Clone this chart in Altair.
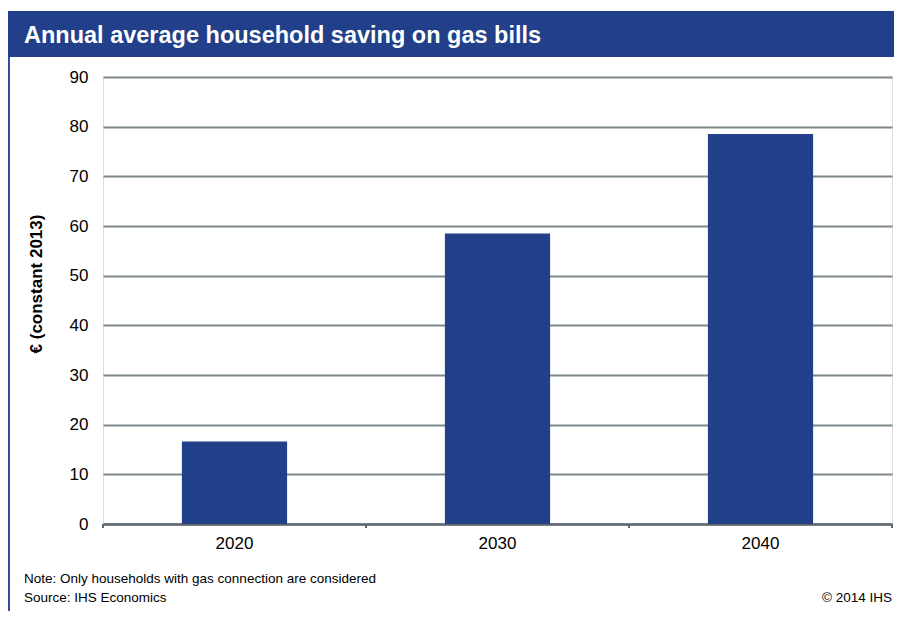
import altair as alt
import pandas as pd

# ---- data ----
years = ["2020", "2030", "2040"]
savings = [16.6, 58.5, 78.5]
y_ticks = [0, 10, 20, 30, 40, 50, 60, 70, 80, 90]
band_edges = [0, 1, 2, 3]

title_text = "Annual average household saving on gas bills"
y_title = "€ (constant 2013)"
note_text = "Note: Only households with gas connection are considered"
source_text = "Source: IHS Economics"
copyright_text = "© 2014 IHS"

BLUE = "#22408a"
GRID = "#7f878e"
AXIS = "#5f6871"
FONT = "Liberation Sans"

df = pd.DataFrame({"year": years, "saving": savings})
edges_df = pd.DataFrame({"b": band_edges})

bars = alt.Chart(df).mark_bar(color=BLUE).encode(
    x=alt.X(
        "year:N",
        sort=years,
        scale=alt.Scale(paddingInner=0.6, paddingOuter=0.3),
        axis=alt.Axis(
            title=None, labelAngle=0, ticks=False, labelPadding=11,
            labelFontSize=17, labelColor="black", labelFont=FONT,
            domainColor=AXIS, domainWidth=2.5, grid=False,
        ),
    ),
    y=alt.Y(
        "saving:Q",
        scale=alt.Scale(domain=[0, 90], nice=False),
        axis=alt.Axis(
            title=None, values=y_ticks, grid=True, gridColor=GRID, gridWidth=2,
            ticks=False, domain=False, labelPadding=15, labelFontSize=17,
            labelColor="black", labelFont=FONT,
        ),
    ),
)

ticks = alt.Chart(edges_df).mark_rule(color=AXIS, strokeWidth=2).encode(
    x=alt.X("b:Q", scale=alt.Scale(domain=[0, 3], nice=False), axis=None),
    y=alt.value(447),
    y2=alt.value(451),
)

one = pd.DataFrame({"t": [title_text]})

title_bar = alt.Chart(one).mark_rect(color=BLUE).encode(
    x=alt.value(-95), x2=alt.value(800), y=alt.value(-66), y2=alt.value(-20)
)
title_label = alt.Chart(one).mark_text(
    align="left", baseline="alphabetic", fontSize=23.5, fontWeight="bold",
    color="white", font=FONT,
).encode(x=alt.value(-79), y=alt.value(-34), text="t:N")

left_line = alt.Chart(one).mark_rule(color="#2d4f9e", strokeWidth=2).encode(
    x=alt.value(-94), y=alt.value(-20), y2=alt.value(540)
)

ytitle = alt.Chart(pd.DataFrame({"t": [y_title]})).mark_text(
    angle=270, align="center", baseline="middle", fontSize=17,
    fontWeight="bold", color="black", font=FONT,
).encode(x=alt.value(-66), y=alt.value(207), text="t:N")

note = alt.Chart(pd.DataFrame({"t": [note_text]})).mark_text(
    align="left", baseline="alphabetic", fontSize=13.5, color="black", font=FONT,
).encode(x=alt.value(-79), y=alt.value(506), text="t:N")

source = alt.Chart(pd.DataFrame({"t": [source_text]})).mark_text(
    align="left", baseline="alphabetic", fontSize=13.5, color="black", font=FONT,
).encode(x=alt.value(-79), y=alt.value(525), text="t:N")

copyr = alt.Chart(pd.DataFrame({"t": [copyright_text]})).mark_text(
    align="right", baseline="alphabetic", fontSize=13.5, color="black", font=FONT,
).encode(x=alt.value(789), y=alt.value(525), text="t:N")

chart = (
    alt.layer(bars, ticks, title_bar, title_label, left_line, ytitle, note, source, copyr)
    .resolve_scale(x="independent")
    .properties(
        width=789,
        height=447,
        autosize=alt.AutoSizeParams(type="none"),
        padding={"left": 95, "top": 69, "right": 2, "bottom": 87},
    )
    .configure_view(stroke=None)
    .configure(font=FONT)
)

chart.save("out.html", embed_options={"renderer": "svg", "actions": False})
